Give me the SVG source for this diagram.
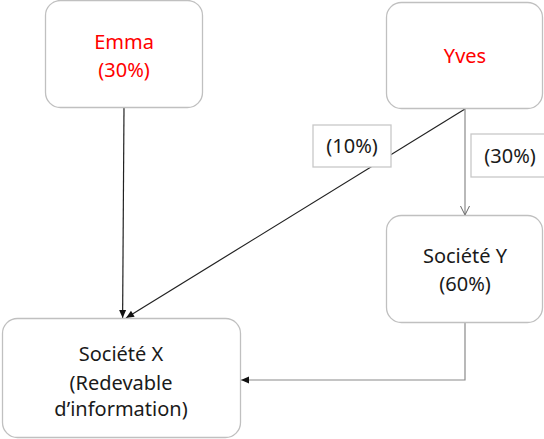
<svg xmlns="http://www.w3.org/2000/svg" width="544" height="439" viewBox="0 0 544 439">
<style>
.box{fill:#fff;stroke:#c0c0c0;stroke-width:1.3}
.lbl{fill:#fff;stroke:#c8c8c8;stroke-width:1.3}
text{font-family:"Noto Sans","Open Sans",sans-serif;font-size:20px;text-anchor:middle;fill:#1a1a1a}
.red{fill:#ff0000}
.dark{stroke:#222;stroke-width:1.2;fill:none}
.gray{stroke:#8a8a8a;stroke-width:1.2;fill:none}
</style>
<defs>
<marker id="af" markerWidth="10" markerHeight="10" refX="9" refY="5" orient="auto" markerUnits="userSpaceOnUse">
<path d="M1,1.5 L9,5 L1,8.5 Z" fill="#111"/>
</marker>
<marker id="ao" markerWidth="12" markerHeight="12" refX="10" refY="6" orient="auto" markerUnits="userSpaceOnUse">
<path d="M1,1.5 L10,6 L1,10.5" fill="none" stroke="#666" stroke-width="1"/>
</marker>
</defs>
<g id="connectors">
<line class="dark" x1="124" y1="107" x2="122.6" y2="318" marker-end="url(#af)"/>
<line class="dark" x1="465" y1="109" x2="126" y2="318" marker-end="url(#af)"/>
<line class="gray" x1="465" y1="109" x2="465" y2="215" marker-end="url(#ao)"/>
<polyline class="gray" points="465,322 465,380 241,380" marker-end="url(#af)"/>
</g>
<g id="emma">
<rect class="box" x="45.5" y="0.5" width="157" height="107" rx="15"/>
<text class="red" x="124" y="49">Emma</text>
<text class="red" x="124" y="77">(30%)</text>
</g>
<g id="yves">
<rect class="box" x="386.5" y="2.5" width="156" height="106" rx="15"/>
<text class="red" x="465" y="63">Yves</text>
</g>
<g id="label10">
<rect class="lbl" x="313" y="125" width="78" height="42"/>
<text x="352" y="153">(10%)</text>
</g>
<g id="label30">
<rect class="lbl" x="471" y="134" width="75" height="43"/>
<text x="510" y="163">(30%)</text>
</g>
<g id="societeY">
<rect class="box" x="386.5" y="215.5" width="156" height="107" rx="15"/>
<text x="465" y="263">Société Y</text>
<text x="465" y="291">(60%)</text>
</g>
<g id="societeX">
<rect class="box" x="2.5" y="318.5" width="238" height="119" rx="15"/>
<text x="121" y="361">Société X</text>
<text x="121" y="390">(Redevable</text>
<text x="121" y="416">d’information)</text>
</g>
</svg>
